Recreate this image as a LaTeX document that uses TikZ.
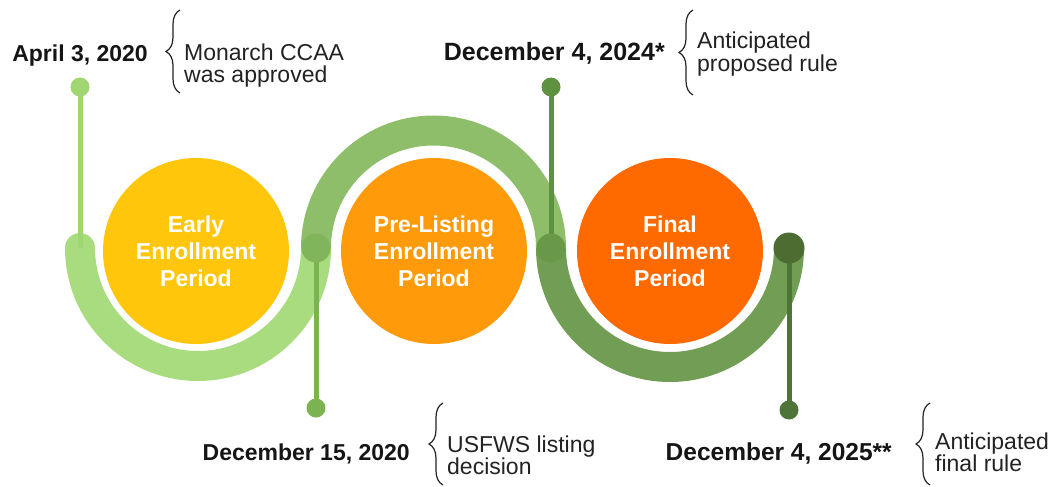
\documentclass[tikz,border=0pt]{standalone}
\usepackage{fontspec}
\setmainfont{Liberation Sans}
\usetikzlibrary{decorations.pathreplacing}
\definecolor{bandA}{HTML}{A8DC7E}
\definecolor{stemA}{HTML}{9FD672}
\definecolor{bandB}{HTML}{8FBE6B}
\definecolor{jointB}{HTML}{80B55B}
\definecolor{stemB}{HTML}{79B450}
\definecolor{bandC}{HTML}{729D55}
\definecolor{jointC}{HTML}{6A9849}
\definecolor{stemC}{HTML}{5E9140}
\definecolor{endD}{HTML}{4C6C32}
\definecolor{stemD}{HTML}{4F7437}
\definecolor{yellowP}{HTML}{FFC60B}
\definecolor{orangeP}{HTML}{FF9A0A}
\definecolor{redP}{HTML}{FF6A00}
\definecolor{ink}{HTML}{151515}
\definecolor{note}{HTML}{222222}
\begin{document}
\begin{tikzpicture}[x=1pt,y=1pt,
  period/.style={circle, inner sep=0pt, minimum size=186pt, text=white, align=center,
    font=\fontsize{23}{27}\selectfont\bfseries},
  band/.style={line width=30pt},
  stem/.style={line width=5pt},
  pin/.style={circle, inner sep=0pt, minimum size=19pt},
  joint/.style={circle, inner sep=0pt, minimum size=29pt},
  datetext/.style={font=\fontsize{23}{26}\selectfont\bfseries, inner sep=0pt, text=ink},
  notetext/.style={font=\fontsize{23}{22}\selectfont, inner sep=0pt, align=left, text=note},
  bracemark/.style={decorate, decoration={brace, amplitude=14pt}, line width=1.2pt, draw=note},
]
\useasboundingbox (0,0) rectangle (1058,-487);

% period circles
\node[period, fill=yellowP] (early) at (196,-251) {Early\\Enrollment\\Period};
\node[period, fill=orangeP] (pre) at (434,-251) {Pre-Listing\\Enrollment\\Period};
\node[period, fill=redP] (final) at (670,-251) {Final\\Enrollment\\Period};

% junction coordinates
\coordinate (j0) at (80,-248);
\coordinate (j1) at (316,-248);
\coordinate (j2) at (551,-248);
\coordinate (j3) at (789,-248);

% bands
\draw[band, bandA, line cap=round] (j0) arc[start angle=180, end angle=360, radius=118];
\draw[band, bandB] (j1) arc[start angle=180, end angle=0, radius=117.5];
\draw[band, bandC] (j2) arc[start angle=180, end angle=360, radius=119];

% pins
\node[pin, fill=stemA] (pA) at (80,-87) {};
\node[pin, fill=stemB] (pB) at (316,-408) {};
\node[pin, fill=stemC] (pC) at (551,-87) {};
\node[pin, fill=stemD] (pD) at (789,-410) {};

% stems
\draw[stem, stemA] (pA.center) -- (j0);
\draw[stem, stemB] (j1) -- (pB.center);
\draw[stem, stemC] (pC.center) -- (j2);
\draw[stem, stemD] (j3) -- (pD.center);

% joint dots
\node[joint, fill=jointB] (kB) at (j1) {};
\node[joint, fill=jointC] (kC) at (j2) {};
\node[joint, fill=endD, minimum size=31pt] (kD) at (j3) {};

% dates and notes
\node[datetext, anchor=base east] (t1) at (148,-62) {April 3, 2020};
\node[notetext, anchor=base west] (n1) at (184,-83) {Monarch CCAA\\was approved};
\node[datetext, anchor=base east, font=\fontsize{25}{28}\selectfont\bfseries] (t2) at (665,-60) {December 4, 2024*};
\node[notetext, anchor=base west] (n2) at (697,-71) {Anticipated\\proposed rule};
\node[datetext, anchor=base east] (t3) at (410,-460) {December 15, 2020};
\node[notetext, anchor=base west] (n3) at (447,-474) {USFWS listing\\decision};
\node[datetext, anchor=base east, font=\fontsize{24.5}{28}\selectfont\bfseries] (t4) at (892,-460) {December 4, 2025**};
\node[notetext, anchor=base west] (n4) at (935,-471) {Anticipated\\final rule};

% braces
\coordinate (b1s) at (180,-93); \coordinate (b1e) at (180,-10);
\coordinate (b2s) at (693,-95); \coordinate (b2e) at (693,-10);
\coordinate (b3s) at (443,-485); \coordinate (b3e) at (443,-403);
\coordinate (b4s) at (930,-485); \coordinate (b4e) at (930,-403);
\draw[bracemark] (b1s) -- (b1e);
\draw[bracemark] (b2s) -- (b2e);
\draw[bracemark] (b3s) -- (b3e);
\draw[bracemark] (b4s) -- (b4e);
\end{tikzpicture}
\end{document}
